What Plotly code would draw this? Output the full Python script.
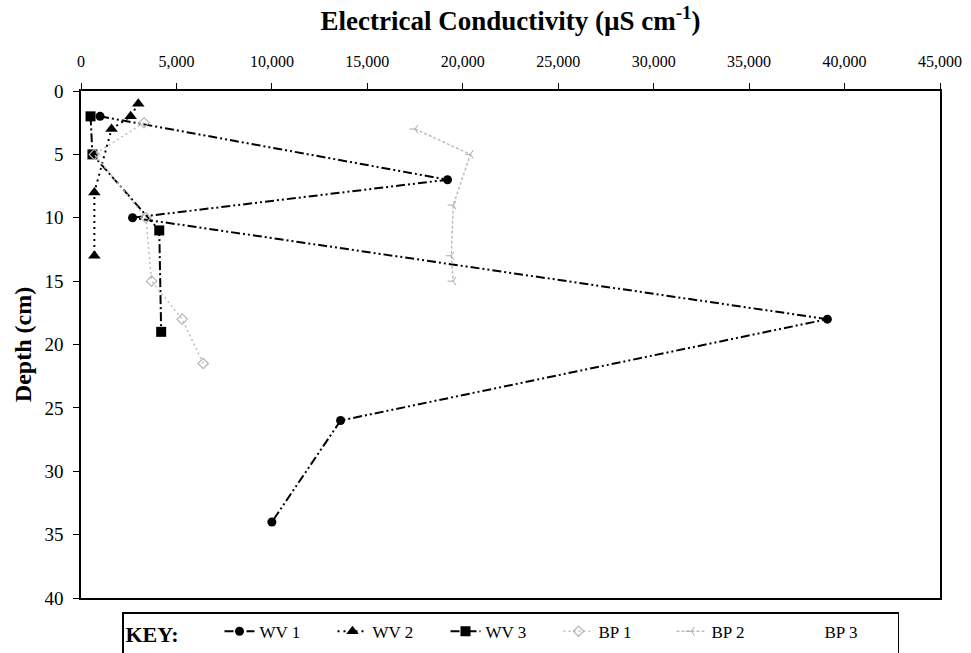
import plotly.graph_objects as go

# ---- data ----
wv1_depth = [2, 7, 10, 18, 26, 34]
wv1_ec = [1000, 19200, 2700, 39100, 13600, 10000]

wv2_depth = [1, 2, 3, 8, 13]
wv2_ec = [3000, 2600, 1600, 700, 700]

wv3_depth = [2, 5, 11, 19]
wv3_ec = [500, 600, 4100, 4200]

bp1_depth = [2.5, 5, 10, 15, 18, 21.5]
bp1_ec = [3300, 700, 3400, 3700, 5300, 6400]

bp2_depth = [3, 5, 9, 13, 15]
bp2_ec = [17500, 20400, 19500, 19400, 19500]

bp3_depth = [None]   # BP 3 shows no visible marks in the reference
bp3_ec = [None]

x_ticks = [0, 5000, 10000, 15000, 20000, 25000, 30000, 35000, 40000, 45000]
y_ticks = [0, 5, 10, 15, 20, 25, 30, 35, 40]

SERIF = "Liberation Serif"

fig = go.Figure()
fig.add_trace(go.Scatter(x=wv1_ec, y=wv1_depth, name="WV 1", mode="lines+markers",
                         line=dict(color="black", width=2, dash="9px,3px,2px,3px,2px,3px"),
                         marker=dict(symbol="circle", size=9, color="black")))
fig.add_trace(go.Scatter(x=wv2_ec, y=wv2_depth, name="WV 2", mode="lines+markers",
                         line=dict(color="black", width=2, dash="2px,4px"),
                         marker=dict(symbol="triangle-up", size=11, color="black")))
fig.add_trace(go.Scatter(x=wv3_ec, y=wv3_depth, name="WV 3", mode="lines+markers",
                         line=dict(color="black", width=2, dash="9px,3px,2px,3px"),
                         marker=dict(symbol="square", size=10, color="black")))
fig.add_trace(go.Scatter(x=bp1_ec, y=bp1_depth, name="BP 1", mode="lines+markers",
                         line=dict(color="#bdbdbd", width=1.5, dash="2px,3px"),
                         marker=dict(symbol="diamond-open", size=8, color="#b5b5b5",
                                     line=dict(width=1.2))))
fig.add_trace(go.Scatter(x=bp2_ec, y=bp2_depth, name="BP 2", mode="lines+markers",
                         line=dict(color="#bdbdbd", width=1.5, dash="3px,2px"),
                         marker=dict(symbol="y-left-open", size=7, color="#a8a8a8",
                                     line=dict(width=1))))
fig.add_trace(go.Scatter(x=bp3_ec, y=bp3_depth, name="BP 3", mode="lines",
                         line=dict(color="rgba(255,255,255,0)", width=1)))

fig.update_layout(
    width=971, height=653,
    margin=dict(l=81, r=31, t=91, b=55, autoexpand=False),
    paper_bgcolor="white", plot_bgcolor="white",
    font=dict(family=SERIF, color="black", size=14),
    showlegend=True,
    legend=dict(
        orientation="h", x=(122 - 81) / 859, xanchor="left",
        y=-0.028, yanchor="top",
        bordercolor="black", borderwidth=1.5, bgcolor="white",
        font=dict(family=SERIF, size=17, color="black"),
        title=dict(text="<b>KEY:</b>&nbsp;&nbsp;&nbsp;&nbsp;&nbsp;&nbsp;",
                   side="left", font=dict(family=SERIF, size=22)),
        entrywidth=68, itemwidth=30,
        tracegroupgap=0,
    ),
)

fig.update_xaxes(
    side="top", range=[0, 45000], tickvals=x_ticks, tickformat=",",
    showgrid=False, zeroline=False,
    showline=True, linecolor="black", linewidth=1.5, mirror=True,
    ticks="outside", ticklen=6, tickcolor="black",
    ticklabelstandoff=10,
    tickfont=dict(family=SERIF, size=16),
    title=dict(text="<b>Electrical Conductivity (µS cm<sup>-1</sup>)</b>",
               font=dict(family=SERIF, size=27), standoff=14),
)
fig.update_yaxes(
    range=[40, 0], tickvals=y_ticks,
    showgrid=False, zeroline=False,
    showline=True, linecolor="black", linewidth=1.5, mirror=True,
    ticks="outside", ticklen=6, tickcolor="black",
    ticklabelstandoff=6,
    tickfont=dict(family=SERIF, size=19),
    title=dict(text="<b>Depth (cm)</b>", font=dict(family=SERIF, size=24), standoff=6),
)

fig.write_html("out.html")
